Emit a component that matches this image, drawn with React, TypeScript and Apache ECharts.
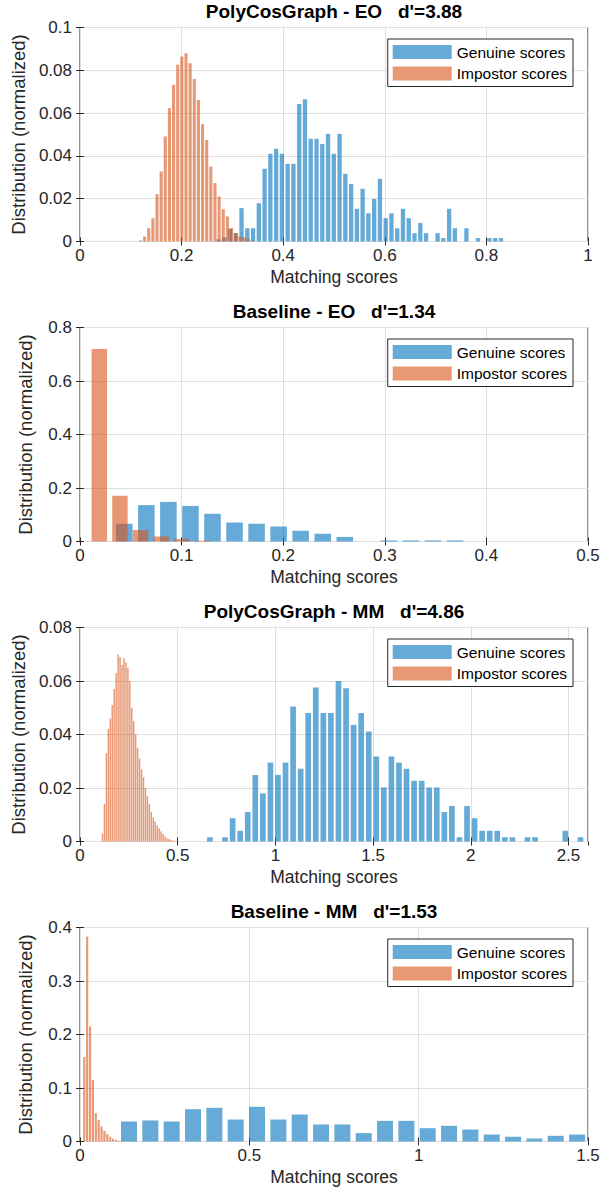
import { useEffect, useRef } from "react";
import * as echarts from "echarts";

// ---------- panel settings ----------
const panelTitles = [
  "PolyCosGraph - EO   d'=3.88",
  "Baseline - EO   d'=1.34",
  "PolyCosGraph - MM   d'=4.86",
  "Baseline - MM   d'=1.53",
];
const xMaxes = [1, 0.5, 2.6, 1.5];
const xIntervals = [0.2, 0.1, 0.5, 0.5];
const yMaxes = [0.1, 0.8, 0.08, 0.4];
const yIntervals = [0.02, 0.2, 0.02, 0.1];
const xAxisName = "Matching scores";
const yAxisName = "Distribution (normalized)";
const seriesNames = ["Genuine scores", "Impostor scores"];

// ---------- histogram data (first bin centre, bin width, heights) ----------
// PolyCosGraph - EO
const eoPolyGenuineStart = 0.2726;
const eoPolyGenuineWidth = 0.01135;
const eoPolyGenuine = [
  0.001, 0.002, 0.006, 0.004, 0.0156, 0.0062, 0.0062, 0.0179, 0.034, 0.041,
  0.0433, 0.041, 0.0363, 0.0363, 0.0642, 0.0665, 0.048, 0.048, 0.0456, 0.0503,
  0.041, 0.0503, 0.0316, 0.0269, 0.0153, 0.0246, 0.0132, 0.0199, 0.0293, 0.0109,
  0.0132, 0.0062, 0.0153, 0.0109, 0.0039, 0.0086, 0.0039, 0, 0.0039, 0.0016,
  0.0153, 0.0062, 0, 0.0062, 0, 0.0016, 0, 0.0016, 0.0016, 0.0016,
];
const eoPolyImpostorStart = 0.119;
const eoPolyImpostorWidth = 0.00815;
const eoPolyImpostor = [
  0.0005, 0.0023, 0.0062, 0.0109, 0.0221, 0.0327, 0.0491, 0.0623, 0.0732, 0.0826,
  0.0864, 0.088, 0.0833, 0.076, 0.0662, 0.0548, 0.0475, 0.035, 0.0273, 0.021,
  0.0151, 0.0117, 0.0062, 0.0039, 0.0023, 0.002, 0.0012, 0.0005,
];

// Baseline - EO
const eoBaseGenuineStart = 0.0436;
const eoBaseGenuineWidth = 0.0217;
const eoBaseGenuine = [
  0.066, 0.136, 0.148, 0.133, 0.1036, 0.071, 0.066, 0.056, 0.04, 0.029,
  0.017, 0, 0.004, 0.004, 0.004, 0.004,
];
const eoBaseImpostorStart = 0.019;
const eoBaseImpostorWidth = 0.0203;
const eoBaseImpostor = [0.72, 0.171, 0.043, 0.0187, 0.009, 0.003];

// PolyCosGraph - MM
const mmPolyGenuineStart = 0.665;
const mmPolyGenuineWidth = 0.0387;
const mmPolyGenuine = [
  0.0016, 0, 0.0016, 0.0087, 0.004, 0.011, 0.0249, 0.018, 0.0295, 0.0249,
  0.0295, 0.0505, 0.0272, 0.048, 0.0576, 0.048, 0.048, 0.06, 0.0573, 0.0436,
  0.048, 0.0411, 0.0318, 0.0202, 0.0318, 0.0295, 0.0272, 0.0227, 0.0227, 0.0202,
  0.0202, 0.011, 0.0133, 0.0016, 0.0133, 0.0087, 0.004, 0.004, 0.004, 0.0016,
  0.0016, 0, 0.0016, 0.0016, 0, 0, 0, 0.004, 0, 0.0016,
];
const mmPolyImpostorStart = 0.115;
const mmPolyImpostorWidth = 0.01;
const mmPolyImpostor = [
  0.003, 0.014, 0.033, 0.042, 0.046, 0.051, 0.057, 0.063, 0.07, 0.069,
  0.066, 0.0685, 0.067, 0.065, 0.06, 0.05, 0.045, 0.04, 0.035, 0.031,
  0.027, 0.024, 0.02, 0.017, 0.014, 0.011, 0.009, 0.0075, 0.006, 0.005,
  0.0037, 0.0028, 0.0019, 0.0012, 0.0009, 0.0006, 0.0004, 0.0003, 0.0002,
];

// Baseline - MM
const mmBaseGenuineStart = 0.1447;
const mmBaseGenuineWidth = 0.063;
const mmBaseGenuine = [
  0.0374, 0.0393, 0.0374, 0.0604, 0.063, 0.0411, 0.0648, 0.0411, 0.0505, 0.0318,
  0.0318, 0.0156, 0.0386, 0.0386, 0.0249, 0.0293, 0.0224, 0.013, 0.0087, 0.0056,
  0.0106, 0.013,
];
const mmBaseImpostorStart = 0.0127;
const mmBaseImpostorWidth = 0.0085;
const mmBaseImpostor = [
  0.158, 0.383, 0.215, 0.115, 0.053, 0.04, 0.028, 0.02, 0.014, 0.009,
  0.005, 0.003, 0.0015, 0.001,
];

const panelHists = [
  {
    g: [eoPolyGenuineStart, eoPolyGenuineWidth, eoPolyGenuine],
    i: [eoPolyImpostorStart, eoPolyImpostorWidth, eoPolyImpostor],
  },
  {
    g: [eoBaseGenuineStart, eoBaseGenuineWidth, eoBaseGenuine],
    i: [eoBaseImpostorStart, eoBaseImpostorWidth, eoBaseImpostor],
  },
  {
    g: [mmPolyGenuineStart, mmPolyGenuineWidth, mmPolyGenuine],
    i: [mmPolyImpostorStart, mmPolyImpostorWidth, mmPolyImpostor],
  },
  {
    g: [mmBaseGenuineStart, mmBaseGenuineWidth, mmBaseGenuine],
    i: [mmBaseImpostorStart, mmBaseImpostorWidth, mmBaseImpostor],
  },
] as any[];

const toBins = (h: any[]) =>
  (h[2] as number[]).map((v, k) => [+(h[0] + k * h[1]).toFixed(5), v]);

const FONT = "Liberation Sans, Arial, Helvetica, sans-serif";
const AXIS_COLOR = "#262626";
const BLUE = "rgba(0,114,189,0.6)";
const ORANGE = "rgba(217,83,25,0.6)";

export default function App() {
  const ref = useRef<HTMLDivElement>(null);
  useEffect(() => {
    document.body.style.margin = "0";
    if (!ref.current) return;
    const chart = echarts.init(ref.current, undefined, { renderer: "svg" });

    const gridTop0 = 27.5;
    const panelStep = 300;
    const grids: any[] = [];
    const xAxes: any[] = [];
    const yAxes: any[] = [];
    const titles: any[] = [];
    const legends: any[] = [];
    const series: any[] = [];

    panelTitles.forEach((t, p) => {
      const top = gridTop0 + p * panelStep;
      grids.push({
        left: 80,
        top,
        width: 508,
        height: 214,
        show: true,
        borderColor: AXIS_COLOR,
        borderWidth: 1,
        backgroundColor: "#fff",
      });
      const tick = { show: true, inside: true, length: 4, lineStyle: { color: AXIS_COLOR } };
      xAxes.push({
        type: "value",
        gridIndex: p,
        position: "bottom",
        min: 0,
        max: xMaxes[p],
        interval: xIntervals[p],
        name: xAxisName,
        nameLocation: "middle",
        nameGap: 26,
        nameTextStyle: { fontSize: 17.5, color: AXIS_COLOR, fontFamily: FONT },
        axisLine: { show: false },
        axisTick: tick,
        axisLabel: {
          fontSize: 17,
          color: AXIS_COLOR,
          fontFamily: FONT,
          margin: 5,
          showMaxLabel: p !== 2,
        },
        splitLine: { show: true, lineStyle: { color: "#dfdfdf", width: 1 } },
      });
      xAxes.push({
        type: "value",
        gridIndex: p,
        position: "top",
        min: 0,
        max: xMaxes[p],
        interval: xIntervals[p],
        axisLine: { show: false },
        axisTick: tick,
        axisLabel: { show: false },
        splitLine: { show: false },
      });
      yAxes.push({
        type: "value",
        gridIndex: p,
        position: "left",
        min: 0,
        max: yMaxes[p],
        interval: yIntervals[p],
        name: yAxisName,
        nameLocation: "middle",
        nameGap: 45,
        nameTextStyle: { fontSize: 18.5, color: AXIS_COLOR, fontFamily: FONT },
        axisLine: { show: false },
        axisTick: tick,
        axisLabel: { fontSize: 17, color: AXIS_COLOR, fontFamily: FONT, margin: 8 },
        splitLine: { show: true, lineStyle: { color: "#dfdfdf", width: 1 } },
      });
      yAxes.push({
        type: "value",
        gridIndex: p,
        position: "right",
        min: 0,
        max: yMaxes[p],
        interval: yIntervals[p],
        axisLine: { show: false },
        axisTick: tick,
        axisLabel: { show: false },
        splitLine: { show: false },
      });
      titles.push({
        text: t,
        left: 334,
        top: 2 + p * panelStep,
        textAlign: "center",
        padding: 0,
        textStyle: { fontSize: 19, fontWeight: "bold", color: "#000", fontFamily: FONT },
      });
      legends.push({
        orient: "vertical",
        right: 41,
        top: 39 + p * panelStep,
        itemWidth: 59,
        itemHeight: 14,
        itemGap: 5.5,
        padding: [5, 6, 5, 5],
        borderColor: AXIS_COLOR,
        borderWidth: 1,
        borderRadius: 0,
        backgroundColor: "#fff",
        icon: "rect",
        selectedMode: false,
        textStyle: { fontSize: 15.5, color: "#000", fontFamily: FONT },
        data: seriesNames,
      });
      const h = panelHists[p];
      series.push({
        name: seriesNames[0],
        type: "bar",
        xAxisIndex: 2 * p,
        yAxisIndex: 2 * p,
        data: toBins(h.g),
        barWidth: "75%",
        itemStyle: { color: BLUE },
      });
      series.push({
        name: seriesNames[1],
        type: "bar",
        xAxisIndex: 2 * p + 1,
        yAxisIndex: 2 * p,
        data: toBins(h.i),
        barWidth: "75%",
        itemStyle: { color: ORANGE },
      });
    });

    chart.setOption({
      animation: false,
      backgroundColor: "#fff",
      textStyle: { fontFamily: FONT },
      title: titles,
      legend: legends,
      grid: grids,
      xAxis: xAxes,
      yAxis: yAxes,
      series,
    });
    return () => chart.dispose();
  }, []);
  return <div ref={ref} style={{ width: 614, height: 1197 }} />;
}
